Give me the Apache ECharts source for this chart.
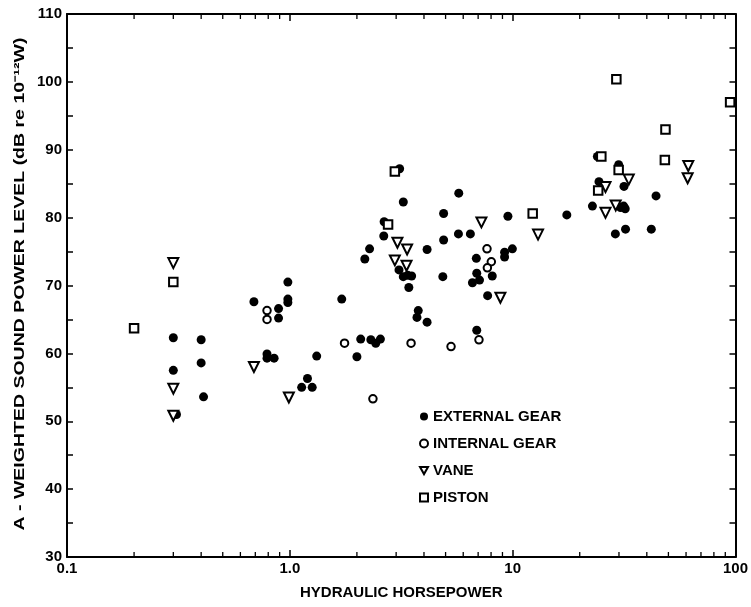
<!DOCTYPE html>
<html><head><meta charset="utf-8">
<script src="https://cdn.jsdelivr.net/npm/echarts@6/dist/echarts.min.js"></script>
<style>html,body{margin:0;padding:0;background:#fff}#c{width:751px;height:607px}</style>
</head><body><div id="c"></div>
<script>
// Data: [hydraulic horsepower, A-weighted sound power level dB]
const externalGear = [
  [0.3,62.3],[0.4,62.0],[0.4,58.6],[0.3,57.5],[0.41,53.6],[0.31,51.0],
  [0.69,67.6],[0.89,66.6],[0.89,65.2],[0.98,70.5],[0.98,68.0],[0.98,67.5],
  [0.79,59.9],[0.79,59.3],[0.85,59.3],[1.13,55.0],[1.2,56.3],[1.26,55.0],[1.32,59.6],
  [1.71,68.0],[2.0,59.5],[2.08,62.1],[2.31,62.0],[2.43,61.5],[2.55,62.1],
  [2.17,73.9],[2.28,75.4],[2.64,77.3],[2.65,79.4],[3.11,87.2],[3.23,82.3],
  [3.09,72.3],[3.23,71.3],[3.38,71.5],[3.52,71.4],[3.42,69.7],[3.77,66.3],[3.72,65.3],[4.13,64.6],
  [4.13,75.3],[4.9,76.7],[4.9,80.6],[4.86,71.3],[5.73,83.6],[5.71,77.6],[6.46,77.6],
  [6.87,74.0],[6.9,71.8],[7.1,70.8],[6.6,70.4],[8.1,71.4],[7.72,68.5],[6.9,63.4],
  [9.2,74.9],[9.2,74.2],[9.97,75.4],[9.52,80.2],
  [17.5,80.4],[22.8,81.7],[24.0,89.0],[24.4,85.3],[28.9,77.6],[29.9,87.8],[30.5,81.5],
  [31.5,81.7],[32,81.3],[31.6,84.6],[32.1,78.3],[41.9,78.3],[44,83.2]
];
const internalGear = [
  [0.79,66.3],[0.79,65.0],[1.76,61.5],[2.36,53.3],[3.5,61.5],[5.29,61.0],
  [7.06,62.0],[7.67,75.4],[8.02,73.5],[7.7,72.6]
];
const vane = [
  [0.3,73.3],[0.3,54.8],[0.3,50.8],[0.69,58.0],[0.99,53.5],[3.04,76.3],[3.36,75.3],
  [2.96,73.7],[3.34,72.9],[7.24,79.3],[8.81,68.2],[13,77.5],[26.1,84.5],[33.2,85.6],
  [29,81.8],[26.1,80.7],[61.4,87.6],[61,85.8]
];
const piston = [
  [0.2,63.7],[0.3,70.5],[2.96,86.8],[2.76,79.0],[12.3,80.6],[29.2,100.4],[94.6,97.0],
  [48.5,93.0],[25,89.0],[48.2,88.5],[29.9,87.0],[24.2,84.0]
];
const seriesNames = ['EXTERNAL GEAR','INTERNAL GEAR','VANE','PISTON'];
const xTickLabels = ['0.1','1.0','10','100'];
const yTickLabels = ['30','40','50','60','70','80','90','100','110'];
const xMinorTicks = [0.2,0.3,0.4,0.5,0.6,0.7,0.8,0.9,2,3,4,5,6,7,8,9,20,30,40,50,60,70,80,90];
const xTitle = 'HYDRAULIC HORSEPOWER';
const yTitle = 'A - WEIGHTED SOUND POWER LEVEL (dB re 10\u207B\u00B9\u00B2W)';

const FONT = '"Liberation Sans", Arial, sans-serif';
const chart = echarts.init(document.getElementById('c'), null, {renderer:'canvas'});
const black = '#000';
const lineAx = {show:true, onZero:false, lineStyle:{color:black, width:2}};
const txt = {fontFamily:FONT, fontWeight:'bold', color:black};
const downTriangle = 'path://M0,0 L10,0 L5,9 Z';

const xBase = {
  type:'log', logBase:10, min:0.1, max:100,
  axisLine: lineAx, splitLine:{show:false},
  axisTick:{show:true, inside:true, length:7, lineStyle:{color:black, width:1.5}}
};
const yBase = {
  type:'value', min:30, max:110, interval:5,
  axisLine: lineAx, splitLine:{show:false},
  axisTick:{show:true, inside:true, length:6, lineStyle:{color:black, width:1.5}}
};

const markerStyle = {color:'#fff', borderColor:black, borderWidth:2, opacity:1};

chart.setOption({
  animation:false,
  backgroundColor:'#fff',
  grid:{left:67, top:14, width:669, height:543, containLabel:false},
  legend:{
    orient:'vertical', left:414, top:404, itemWidth:8, itemHeight:8, itemGap:12,
    data:[
      {name:seriesNames[0]},
      {name:seriesNames[1]},
      {name:seriesNames[2], icon:downTriangle},
      {name:seriesNames[3]}
    ],
    textStyle:Object.assign({fontSize:15}, txt), selectedMode:false
  },
  graphic:[{
    type:'text', x:20, y:284, rotation:Math.PI/2, scaleX:1.3, silent:true,
    style:{text:yTitle, font:'bold 15px "Liberation Sans", Arial, sans-serif',
      fill:black, align:'center', verticalAlign:'middle'}
  }],
  xAxis:[
    Object.assign({}, xBase, {
      position:'bottom',
      axisLabel:Object.assign({fontSize:15, margin:4, formatter:(v,i)=>xTickLabels[i]}, txt),
      name:xTitle, nameLocation:'middle', nameGap:28,
      nameTextStyle:Object.assign({fontSize:15}, txt)
    }),
    Object.assign({}, xBase, {position:'top', axisLabel:{show:false}})
  ],
  yAxis:[
    Object.assign({}, yBase, {
      position:'left',
      axisLabel:Object.assign({fontSize:15, margin:5, formatter:(v)=> (v%10===0 ? yTickLabels[(v-30)/10] : '')}, txt)
    }),
    Object.assign({}, yBase, {position:'right', axisLabel:{show:false}})
  ],
  series:[
    {name:seriesNames[0], type:'scatter', data:externalGear, symbol:'circle', symbolSize:9,
      itemStyle:{color:black, opacity:1}},
    {name:seriesNames[1], type:'scatter', data:internalGear, symbol:'circle', symbolSize:7.5,
      itemStyle:markerStyle},
    {name:seriesNames[2], type:'scatter', data:vane, symbol:'triangle', symbolSize:10, symbolRotate:180,
      itemStyle:markerStyle},
    {name:seriesNames[3], type:'scatter', data:piston, symbol:'rect', symbolSize:8.5,
      itemStyle:markerStyle},
    {type:'custom', silent:true, clip:false, xAxisIndex:0, yAxisIndex:0,
      data:xMinorTicks.map(v=>[v,30]),
      renderItem:function(params, api){
        const x = api.value(0);
        const b = api.coord([x,30]);
        const t = api.coord([x,110]);
        const st = {stroke:black, lineWidth:1.3};
        return {type:'group', children:[
          {type:'line', shape:{x1:b[0], y1:b[1], x2:b[0], y2:b[1]-5}, style:st},
          {type:'line', shape:{x1:t[0], y1:t[1], x2:t[0], y2:t[1]+5}, style:st}
        ]};
      }
    }
  ]
});
</script></body></html>
